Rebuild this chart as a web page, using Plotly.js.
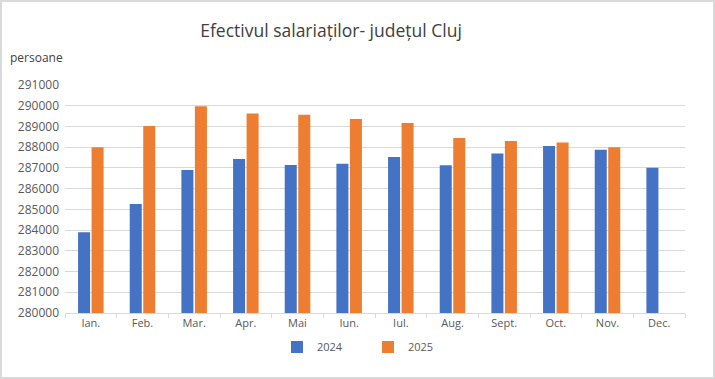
<!DOCTYPE html>
<html>
<head>
<meta charset="utf-8">
<script src="https://cdn.plot.ly/plotly-3.0.1.min.js"></script>
<style>
html,body{margin:0;padding:0;background:#fff;}
#wrap{position:relative;width:715px;height:379px;}
#chart{width:715px;height:379px;}
#frame{position:absolute;left:0;top:0;width:715px;height:379px;box-sizing:border-box;border:2px solid #d9d9d9;pointer-events:none;}
</style>
</head>
<body>
<div id="wrap"><div id="chart"></div><div id="frame"></div></div>
<script>
const months = ["Ian.","Feb.","Mar.","Apr.","Mai","Iun.","Iul.","Aug.","Sept.","Oct.","Nov.","Dec."];
const values2024 = [283900,285260,286900,287430,287140,287200,287530,287130,287700,288060,287880,287010];
const values2025 = [288000,289020,289970,289620,289560,289360,289170,288440,288300,288230,288000,null];
const tickVals = [280000,281000,282000,283000,284000,285000,286000,287000,288000,289000,290000,291000];

const font = "Open Sans, Liberation Sans, sans-serif";
const data = [
  {type:"bar", name:"2024", x:months, y:values2024, marker:{color:"#4472C4"}},
  {type:"bar", name:"2025", x:months, y:values2025, marker:{color:"#ED7D31"}}
];
const layout = {
  width:715, height:379,
  margin:{l:65, r:30, t:85, b:66},
  paper_bgcolor:"#fff", plot_bgcolor:"#fff",
  font:{family:font, color:"#595959", size:11},
  barmode:"group", bargap:0.477, bargroupgap:0.11,
  title:{text:"Efectivul salariaților- județul Cluj", font:{family:font, size:17.5, color:"#404040"},
         x:0.463, xanchor:"center", xref:"container", y:1-31/379, yanchor:"middle", yref:"container"},
  xaxis:{showgrid:false, showline:true, linecolor:"#d9d9d9", linewidth:1,
         ticks:"outside", tickson:"boundaries", ticklen:4, tickcolor:"#d9d9d9",
         tickfont:{size:11, color:"#595959"}, fixedrange:true},
  yaxis:{range:[280000,291000], tickvals:tickVals, ticktext:tickVals.map(String),
         showgrid:true, gridcolor:"#d9d9d9", gridwidth:1, zeroline:false, showline:false,
         ticks:"", ticklabelstandoff:5, tickfont:{size:12, color:"#595959"}},
  showlegend:true,
  legend:{orientation:"h", x:(368-65)/620, xanchor:"center", y:(313-347)/228, yanchor:"middle",
          itemwidth:30, entrywidth:46, font:{size:11, color:"#595959"}},
  annotations:[{text:"persoane", xref:"paper", yref:"paper", x:(8-65)/620, y:(313-57)/228,
                xanchor:"left", yanchor:"middle", showarrow:false, font:{size:12, color:"#404040"}}]
};
Plotly.newPlot("chart", data, layout, {displayModeBar:false, staticPlot:true});
</script>
</body>
</html>
